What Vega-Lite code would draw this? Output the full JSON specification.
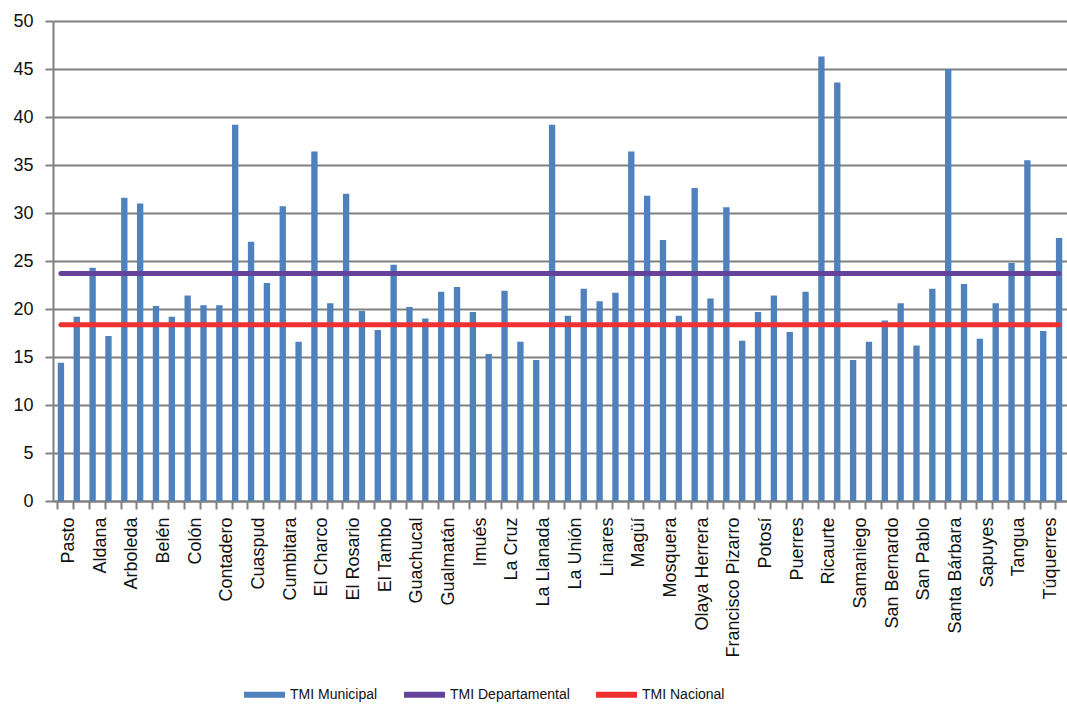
{
  "$schema": "https://vega.github.io/schema/vega-lite/v6.json",
  "width": 1014,
  "height": 480,
  "autosize": {"type": "none"},
  "padding": {"left": 53, "top": 21, "right": 0, "bottom": 206},
  "background": "white",
  "config": {"view": {"stroke": null}, "font": "Liberation Sans"},
  "data": {"values": [
    {"municipio": "Pasto", "municipal": 14.4, "departamental": 23.7, "nacional": 18.35},
    {"municipio": "Albán", "municipal": 19.2, "departamental": 23.7, "nacional": 18.35},
    {"municipio": "Aldana", "municipal": 24.3, "departamental": 23.7, "nacional": 18.35},
    {"municipio": "Ancuyá", "municipal": 17.2, "departamental": 23.7, "nacional": 18.35},
    {"municipio": "Arboleda", "municipal": 31.6, "departamental": 23.7, "nacional": 18.35},
    {"municipio": "Barbacoas", "municipal": 31.0, "departamental": 23.7, "nacional": 18.35},
    {"municipio": "Belén", "municipal": 20.3, "departamental": 23.7, "nacional": 18.35},
    {"municipio": "Buesaco", "municipal": 19.2, "departamental": 23.7, "nacional": 18.35},
    {"municipio": "Colón", "municipal": 21.4, "departamental": 23.7, "nacional": 18.35},
    {"municipio": "Consacá", "municipal": 20.4, "departamental": 23.7, "nacional": 18.35},
    {"municipio": "Contadero", "municipal": 20.4, "departamental": 23.7, "nacional": 18.35},
    {"municipio": "Córdoba", "municipal": 39.2, "departamental": 23.7, "nacional": 18.35},
    {"municipio": "Cuaspud", "municipal": 27.0, "departamental": 23.7, "nacional": 18.35},
    {"municipio": "Cumbal", "municipal": 22.7, "departamental": 23.7, "nacional": 18.35},
    {"municipio": "Cumbitara", "municipal": 30.7, "departamental": 23.7, "nacional": 18.35},
    {"municipio": "Chachagüí", "municipal": 16.6, "departamental": 23.7, "nacional": 18.35},
    {"municipio": "El Charco", "municipal": 36.4, "departamental": 23.7, "nacional": 18.35},
    {"municipio": "El Peñol", "municipal": 20.6, "departamental": 23.7, "nacional": 18.35},
    {"municipio": "El Rosario", "municipal": 32.0, "departamental": 23.7, "nacional": 18.35},
    {"municipio": "El Tablón de Gómez", "municipal": 19.8, "departamental": 23.7, "nacional": 18.35},
    {"municipio": "El Tambo", "municipal": 17.8, "departamental": 23.7, "nacional": 18.35},
    {"municipio": "Funes", "municipal": 24.6, "departamental": 23.7, "nacional": 18.35},
    {"municipio": "Guachucal", "municipal": 20.2, "departamental": 23.7, "nacional": 18.35},
    {"municipio": "Guaitarilla", "municipal": 19.0, "departamental": 23.7, "nacional": 18.35},
    {"municipio": "Gualmatán", "municipal": 21.8, "departamental": 23.7, "nacional": 18.35},
    {"municipio": "Iles", "municipal": 22.3, "departamental": 23.7, "nacional": 18.35},
    {"municipio": "Imués", "municipal": 19.7, "departamental": 23.7, "nacional": 18.35},
    {"municipio": "Ipiales", "municipal": 15.3, "departamental": 23.7, "nacional": 18.35},
    {"municipio": "La Cruz", "municipal": 21.9, "departamental": 23.7, "nacional": 18.35},
    {"municipio": "La Florida", "municipal": 16.6, "departamental": 23.7, "nacional": 18.35},
    {"municipio": "La Llanada", "municipal": 14.7, "departamental": 23.7, "nacional": 18.35},
    {"municipio": "La Tola", "municipal": 39.2, "departamental": 23.7, "nacional": 18.35},
    {"municipio": "La Unión", "municipal": 19.3, "departamental": 23.7, "nacional": 18.35},
    {"municipio": "Leiva", "municipal": 22.1, "departamental": 23.7, "nacional": 18.35},
    {"municipio": "Linares", "municipal": 20.8, "departamental": 23.7, "nacional": 18.35},
    {"municipio": "Los Andes", "municipal": 21.7, "departamental": 23.7, "nacional": 18.35},
    {"municipio": "Magüí", "municipal": 36.4, "departamental": 23.7, "nacional": 18.35},
    {"municipio": "Mallama", "municipal": 31.8, "departamental": 23.7, "nacional": 18.35},
    {"municipio": "Mosquera", "municipal": 27.2, "departamental": 23.7, "nacional": 18.35},
    {"municipio": "Nariño", "municipal": 19.3, "departamental": 23.7, "nacional": 18.35},
    {"municipio": "Olaya Herrera", "municipal": 32.6, "departamental": 23.7, "nacional": 18.35},
    {"municipio": "Ospina", "municipal": 21.1, "departamental": 23.7, "nacional": 18.35},
    {"municipio": "Francisco Pizarro", "municipal": 30.6, "departamental": 23.7, "nacional": 18.35},
    {"municipio": "Policarpa", "municipal": 16.7, "departamental": 23.7, "nacional": 18.35},
    {"municipio": "Potosí", "municipal": 19.7, "departamental": 23.7, "nacional": 18.35},
    {"municipio": "Providencia", "municipal": 21.4, "departamental": 23.7, "nacional": 18.35},
    {"municipio": "Puerres", "municipal": 17.6, "departamental": 23.7, "nacional": 18.35},
    {"municipio": "Pupiales", "municipal": 21.8, "departamental": 23.7, "nacional": 18.35},
    {"municipio": "Ricaurte", "municipal": 46.3, "departamental": 23.7, "nacional": 18.35},
    {"municipio": "Roberto Payán", "municipal": 43.6, "departamental": 23.7, "nacional": 18.35},
    {"municipio": "Samaniego", "municipal": 14.7, "departamental": 23.7, "nacional": 18.35},
    {"municipio": "Sandoná", "municipal": 16.6, "departamental": 23.7, "nacional": 18.35},
    {"municipio": "San Bernardo", "municipal": 18.8, "departamental": 23.7, "nacional": 18.35},
    {"municipio": "San Lorenzo", "municipal": 20.6, "departamental": 23.7, "nacional": 18.35},
    {"municipio": "San Pablo", "municipal": 16.2, "departamental": 23.7, "nacional": 18.35},
    {"municipio": "San Pedro de Cartago", "municipal": 22.1, "departamental": 23.7, "nacional": 18.35},
    {"municipio": "Santa Bárbara", "municipal": 45.0, "departamental": 23.7, "nacional": 18.35},
    {"municipio": "Santacruz", "municipal": 22.6, "departamental": 23.7, "nacional": 18.35},
    {"municipio": "Sapuyes", "municipal": 16.9, "departamental": 23.7, "nacional": 18.35},
    {"municipio": "Taminango", "municipal": 20.6, "departamental": 23.7, "nacional": 18.35},
    {"municipio": "Tangua", "municipal": 24.8, "departamental": 23.7, "nacional": 18.35},
    {"municipio": "Tumaco", "municipal": 35.5, "departamental": 23.7, "nacional": 18.35},
    {"municipio": "Túquerres", "municipal": 17.7, "departamental": 23.7, "nacional": 18.35},
    {"municipio": "Yacuanquer", "municipal": 27.4, "departamental": 23.7, "nacional": 18.35}
  ]},
  "encoding": {
    "x": {
      "field": "municipio",
      "type": "nominal",
      "sort": null,
      "title": null,
      "scale": {"paddingInner": 0.6, "paddingOuter": 0.3},
      "axis": {
        "labelAngle": -90,
        "labelFontSize": 18,
        "labelColor": "#111111",
        "labelPadding": 8,
        "labelExpr": "indexof(domain('x'), datum.value) % 2 === 0 ? datum.label : ''",
        "labelOverlap": false,
        "bandPosition": 0,
        "labelOffset": 7.92,
        "domainColor": "#808080",
        "domainWidth": 2,
        "tickColor": "#808080",
        "tickWidth": 2,
        "tickSize": 8,
        "grid": false
      }
    }
  },
  "layer": [
    {
      "mark": {"type": "bar"},
      "encoding": {
        "y": {
          "field": "municipal",
          "type": "quantitative",
          "title": null,
          "scale": {"domain": [0, 50], "nice": false},
          "axis": {
            "values": [0, 5, 10, 15, 20, 25, 30, 35, 40, 45, 50],
            "labelFontSize": 18,
            "labelColor": "#111111",
            "labelPadding": 12,
            "grid": true,
            "gridColor": "#808080",
            "gridWidth": 2,
            "domainColor": "#808080",
            "domainWidth": 2,
            "tickColor": "#808080",
            "tickWidth": 2,
            "tickSize": 8
          }
        },
        "color": {
          "datum": "TMI Municipal",
          "type": "nominal",
          "scale": {
            "domain": ["TMI Municipal", "TMI Departamental", "TMI Nacional"],
            "range": ["#4F81BD", "#66439A", "#EE3030"]
          },
          "legend": {
            "orient": "none",
            "legendX": 188,
            "legendY": 650,
            "direction": "horizontal",
            "title": null,
            "symbolType": "stroke",
            "symbolSize": 1681,
            "symbolStrokeWidth": 6,
            "labelFontSize": 14,
            "labelColor": "#111111",
            "labelOffset": 2,
            "columnPadding": 14
          }
        }
      }
    },
    {
      "mark": {"type": "line", "strokeWidth": 5, "strokeCap": "round"},
      "encoding": {
        "y": {"field": "departamental", "type": "quantitative", "title": null},
        "color": {"datum": "TMI Departamental", "type": "nominal"}
      }
    },
    {
      "mark": {"type": "line", "strokeWidth": 5, "strokeCap": "round"},
      "encoding": {
        "y": {"field": "nacional", "type": "quantitative", "title": null},
        "color": {"datum": "TMI Nacional", "type": "nominal"}
      }
    }
  ]
}
